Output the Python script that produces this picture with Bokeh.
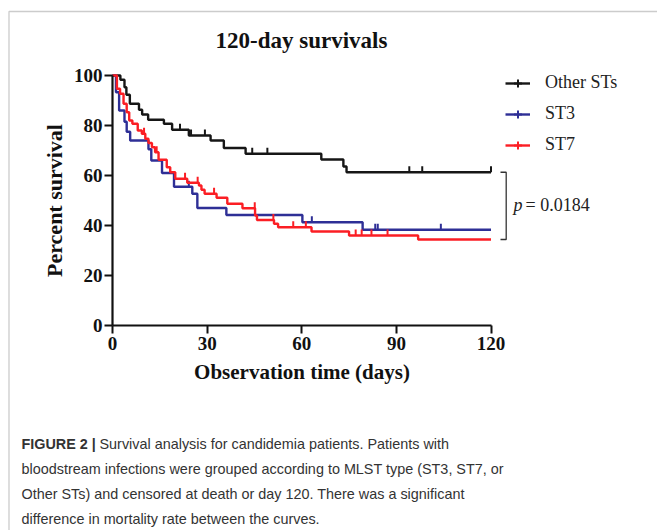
import numpy as np
from bokeh.plotting import figure
from bokeh.models import (Range1d, FixedTicker, Legend, LegendItem, Label,
                          BoxAnnotation, LinearAxis)
from bokeh.embed import file_html
from bokeh.resources import INLINE

# ---------------- data ----------------
TIME_TICKS = [0, 30, 60, 90, 120]
SURV_TICKS = [0, 20, 40, 60, 80, 100]
END_DAY = 120

SERIES = ["Other STs", "ST3", "ST7"]

OTHER_T = [2.5, 3.8, 4.4, 5.5, 8.4, 9.4, 11.3, 16.3, 18.9, 24.2, 31.1, 35.3,
           42.2, 66.2, 73.2, 74.2]
OTHER_S = [98.3, 95.3, 92.3, 88.7, 86.3, 84.4, 82.3, 80.7, 78.3, 76.0, 74.0,
           71.0, 68.7, 66.4, 63.6, 61.3]
OTHER_CENSOR = [21.4, 24.9, 29.3, 44.3, 49.1, 94.1, 98.2, 120.0]

ST3_T = [1.1, 2.1, 3.8, 4.5, 5.6, 11.4, 12.3, 15.7, 19.5, 25.3, 26.9, 36.1,
         60.2, 79.3]
ST3_S = [93.3, 86.0, 81.5, 77.5, 74.0, 70.5, 66.0, 61.0, 55.5, 52.7, 47.0,
         44.2, 41.3, 38.3]
ST3_CENSOR = [24.2, 63.2, 83.3, 84.1, 104.1]

ST7_T = [1.4, 2.4, 3.5, 4.5, 5.3, 6.3, 8.0, 9.3, 10.4, 11.4, 12.5, 13.5, 14.6,
         17.2, 18.3, 19.9, 23.7, 27.4, 28.2, 29.2, 33.0, 36.4, 41.2, 45.2,
         45.8, 51.2, 52.5, 63.1, 75.0, 96.9]
ST7_S = [94.7, 92.7, 88.7, 85.3, 82.0, 80.7, 78.0, 76.7, 74.7, 73.0, 71.3,
         69.3, 66.3, 63.3, 61.3, 58.7, 57.1, 56.0, 54.3, 52.7, 51.1, 48.7,
         46.9, 44.0, 42.2, 40.7, 39.3, 37.6, 36.0, 34.4]
ST7_CENSOR = [10.0, 14.0, 23.0, 27.0, 32.2, 45.1, 51.0, 57.3, 61.3, 77.1,
              79.0, 82.1, 87.2]

P_TEXT = "= 0.0184"
TITLE = "120-day survivals"
X_LABEL = "Observation time (days)"
Y_LABEL = "Percent survival"
CAPTION_BOLD = "FIGURE 2 |"
CAPTION_LINES = [
    "Survival analysis for candidemia patients. Patients with",
    "bloodstream infections were grouped according to MLST type (ST3, ST7, or",
    "Other STs) and censored at death or day 120. There was a significant",
    "difference in mortality rate between the curves.",
]

# ---------------- layout / style ----------------
W, H = 657, 530
X0_PX, X120_PX = 112.0, 490.5        # canvas x of day 0 and day 120
Y0_PX, Y100_PX = 325.0, 75.0         # canvas y of 0 % and 100 %
PX_PER_DAY = (X120_PX - X0_PX) / END_DAY
PX_PER_PCT = (Y0_PX - Y100_PX) / 100
X_RANGE = (-X0_PX / PX_PER_DAY, (W - X0_PX) / PX_PER_DAY)
Y_RANGE = (-(H - Y0_PX) / PX_PER_PCT, (Y0_PX) / PX_PER_PCT)

SERIF = "Liberation Serif"
COLORS = {"Other STs": "#161616", "ST3": "#2e2f96", "ST7": "#fb1e24"}
TICK_UP = 6 / PX_PER_PCT


def sx(px):
    return px


def sy(py):
    return H - py


def km_path(times, surv):
    return [0] + list(times) + [END_DAY], [100] + list(surv) + [surv[-1]]


def level_at(times, surv, t):
    i = int(np.searchsorted(times, t, side="right")) - 1
    return 100.0 if i < 0 else surv[i]


p = figure(width=W, height=H, x_range=Range1d(*X_RANGE), y_range=Range1d(*Y_RANGE),
           output_backend="svg", toolbar_location=None,
           x_axis_location=None, y_axis_location=None,
           min_border_left=0, min_border_right=0, min_border_top=0, min_border_bottom=0)
p.outline_line_color = None
p.background_fill_color = "white"
p.border_fill_color = "white"
for g in p.grid:
    g.visible = False
p.xgrid.grid_line_color = None
p.ygrid.grid_line_color = None

xaxis = LinearAxis(fixed_location=0)
yaxis = LinearAxis(fixed_location=0)
p.add_layout(xaxis, "below")
p.add_layout(yaxis, "left")

for ax, ticks, bounds, label in ((xaxis, TIME_TICKS, (0, END_DAY), X_LABEL),
                                 (yaxis, SURV_TICKS, (0, 100), Y_LABEL)):
    ax.ticker = FixedTicker(ticks=ticks)
    ax.bounds = bounds
    ax.axis_label = label
    ax.axis_line_width = 2.2
    ax.axis_line_color = "#111111"
    ax.major_tick_line_width = 2
    ax.major_tick_line_color = "#111111"
    ax.major_tick_out = 8
    ax.major_tick_in = 0
    ax.minor_tick_line_color = None
    ax.major_label_text_font = SERIF
    ax.major_label_text_font_style = "bold"
    ax.major_label_text_font_size = "19px"
    ax.major_label_text_color = "#111111"
    ax.axis_label_text_font = SERIF
    ax.axis_label_text_font_style = "bold"
    ax.axis_label_text_color = "#111111"
xaxis.axis_label_text_font_size = "21px"
yaxis.axis_label_text_font_size = "22px"
xaxis.major_label_standoff = 3
yaxis.major_label_standoff = 2
xaxis.axis_label_standoff = 7
yaxis.axis_label_standoff = 4

data = {
    "Other STs": (OTHER_T, OTHER_S, OTHER_CENSOR),
    "ST3": (ST3_T, ST3_S, ST3_CENSOR),
    "ST7": (ST7_T, ST7_S, ST7_CENSOR),
}

items = {}
for name in SERIES:
    t, s, c = data[name]
    col = COLORS[name]
    xs, ys = km_path(t, s)
    ln = p.step(xs, ys, mode="after", line_color=col, line_width=2.4)
    cy = [level_at(t, s, ci) for ci in c]
    p.segment(x0=c, y0=cy, x1=c, y1=[v + TICK_UP for v in cy],
              line_color=col, line_width=2)
    mk = p.scatter(x=c, y=cy, marker="cross", size=0, line_color=col, line_width=2)
    items[name] = LegendItem(label=name, renderers=[ln, mk])

legend = Legend(items=[items[n] for n in SERIES], location=(sx(505), sy(75) - 80),
                border_line_color=None, background_fill_alpha=0, padding=0, margin=0,
                spacing=10, glyph_width=25, glyph_height=20, label_height=20,
                label_standoff=15, label_text_font=SERIF, label_text_font_size="18px",
                label_text_color="#222222")
p.add_layout(legend)

# bracket joining the curve ends
BX, BARM = (505.7 - X0_PX) / PX_PER_DAY, 5.7 / PX_PER_DAY
top, bot = OTHER_S[-1], ST7_S[-1]
p.line([BX - BARM, BX, BX, BX - BARM], [top, top, bot, bot],
       line_color="#333333", line_width=1.3)

p.add_layout(Label(x=sx(513), y=sy(204), x_units="screen", y_units="screen",
                   text="p", text_font=SERIF, text_font_style="italic",
                   text_font_size="18px", text_baseline="middle", text_color="#222222"))
p.add_layout(Label(x=sx(525), y=sy(204), x_units="screen", y_units="screen",
                   text=P_TEXT, text_font=SERIF, text_font_size="18px",
                   text_baseline="middle", text_color="#222222"))

p.add_layout(Label(x=sx(301), y=sy(40), x_units="screen", y_units="screen",
                   text=TITLE, text_font=SERIF, text_font_style="bold",
                   text_font_size="23px", text_align="center", text_baseline="middle",
                   text_color="#111111"))

CAP_FONT = "Liberation Sans"
CAP_SIZE = "14.4px"
p.add_layout(Label(x=sx(21), y=sy(443.5), x_units="screen", y_units="screen",
                   text=CAPTION_BOLD, text_font=CAP_FONT, text_font_style="bold",
                   text_font_size=CAP_SIZE, text_baseline="alphabetic",
                   text_color="#333333"))
for i, line in enumerate(CAPTION_LINES):
    x0 = 99 if i == 0 else 21
    p.add_layout(Label(x=sx(x0), y=sy(443.5 + 25 * i), x_units="screen", y_units="screen",
                       text=line, text_font=CAP_FONT, text_font_size=CAP_SIZE,
                       text_baseline="alphabetic", text_color="#333333"))

p.add_layout(BoxAnnotation(left=sx(8.5), right=sx(760), top=sy(11), bottom=sy(700),
                           left_units="screen", right_units="screen",
                           top_units="screen", bottom_units="screen",
                           fill_color=None, fill_alpha=0, line_color="#555555",
                           line_width=1.3))

open("out.html", "w").write(file_html(p, INLINE))
